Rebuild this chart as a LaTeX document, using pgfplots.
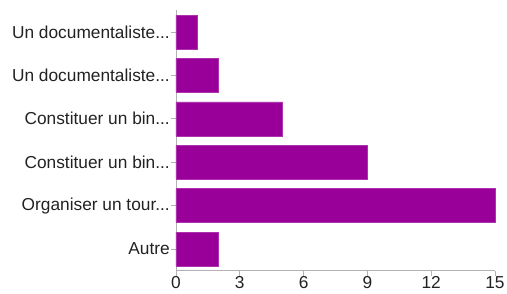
\documentclass[border=0pt]{standalone}
\usepackage{pgfplots}
\pgfplotsset{compat=1.18}
\usepackage{fontspec}
\setmainfont{Liberation Sans}
\definecolor{barpurple}{HTML}{990099}
\definecolor{axgray}{HTML}{B3B3B3}
\definecolor{txt}{HTML}{222222}
\begin{document}
\begin{tikzpicture}[x=1pt,y=1pt]
\path[use as bounding box] (0,0) rectangle (507,293);
\begin{axis}[
  at={(176pt,22.3pt)}, anchor=south west,
  scale only axis,
  width=319pt, height=260.4pt,
  xbar, bar width=34pt,
  xmin=0, xmax=15, ymin=-0.5, ymax=5.5,
  y dir=reverse,
  axis x line*=bottom, axis y line*=left,
  axis line style={axgray, line width=0.8pt},
  xtick={0,3,6,9,12,15},
  ytick={0,1,2,3,4,5},
  yticklabels={{Un documentaliste.{}.{}.},{Un documentaliste.{}.{}.},{Constituer un bin.{}.{}.},{Constituer un bin.{}.{}.},{Organiser un tour.{}.{}.},Autre},
  tick align=outside, major tick length=5pt,
  tick style={axgray, line width=0.8pt},
  /pgf/number format/assume math mode=true,
  ticklabel style={font=\fontsize{17.3}{20}\selectfont, text=txt},
  yticklabel style={inner sep=1pt},
  xticklabel style={inner sep=1pt},
  enlarge x limits=false,
  clip=false,
]
\addplot[fill=barpurple, draw=barpurple!80!white, line width=0.6pt] coordinates {
(1,0) (2,1) (5,2) (9,3) (15,4) (2,5)};
\end{axis}
\end{tikzpicture}
\end{document}
